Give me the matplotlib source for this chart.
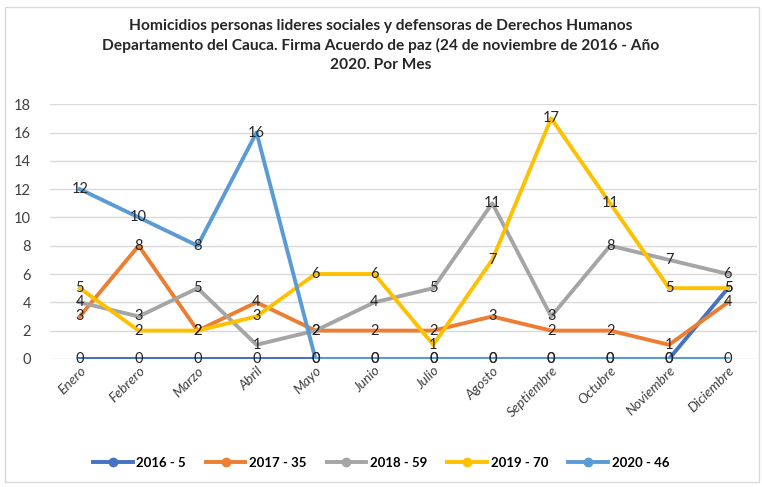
import matplotlib.pyplot as plt
from matplotlib.patches import Rectangle
from matplotlib.lines import Line2D

meses = ["Enero", "Febrero", "Marzo", "Abril", "Mayo", "Junio", "Julio",
         "Agosto", "Septiembre", "Octubre", "Noviembre", "Diciembre"]

y2016 = [0, 0, 0, 0, 0, 0, 0, 0, 0, 0, 0, 5]
y2017 = [3, 8, 2, 4, 2, 2, 2, 3, 2, 2, 1, 4]
y2018 = [4, 3, 5, 1, 2, 4, 5, 11, 3, 8, 7, 6]
y2019 = [5, 2, 2, 3, 6, 6, 1, 7, 17, 11, 5, 5]
y2020 = [12, 10, 8, 16, 0, 0, 0, 0, 0, 0, 0, 0]

series = [("2016 - 5", y2016, "#4472C4"),
          ("2017 - 35", y2017, "#ED7D31"),
          ("2018 - 59", y2018, "#A5A5A5"),
          ("2019 - 70", y2019, "#FFC000"),
          ("2020 - 46", y2020, "#5B9BD5")]

plt.rcParams['font.family'] = ['Lato', 'DejaVu Sans']

fig = plt.figure(figsize=(7.62, 4.87), dpi=100)
ax = fig.add_axes([0.066, 0.263, 0.928, 0.523])

x = list(range(len(meses)))
handles = []
for name, vals, col in series:
    ax.plot(x, vals, color=col, lw=2.8, solid_joinstyle='round')
    handles.append(Line2D([], [], color=col, lw=2.8, marker='o', ms=6, label=name))
for name, vals, col in series:
    for i, v in enumerate(vals):
        ax.text(i, v, str(v), ha='center', va='center', fontsize=10.5,
                color='#262626')

ax.set_xlim(-0.5, 11.5)
ax.set_ylim(0, 18)
ax.set_yticks(range(0, 19, 2))
ax.set_xticks(x)
ax.set_xticklabels(meses, rotation=45, ha='right', rotation_mode='anchor',
                   fontsize=10, color='#404040', style='italic')
ax.tick_params(axis='y', labelsize=10.5, colors='#404040', length=0, pad=14)
ax.tick_params(axis='x', length=0, pad=4)
ax.grid(axis='y', color='#D9D9D9', lw=1)
ax.set_axisbelow(True)
for s in ax.spines.values():
    s.set_visible(False)

fig.suptitle("Homicidios personas lideres sociales y defensoras de Derechos Humanos\n"
             "Departamento del Cauca. Firma Acuerdo de paz (24 de noviembre de 2016 - Año\n"
             "2020. Por Mes", y=0.96, fontsize=11.2, fontweight='bold',
             color='#262626', linespacing=1.4)

fig.legend(handles=handles, loc='center', bbox_to_anchor=(0.5, 0.05), ncol=5,
           frameon=False, prop={'weight': 'bold', 'size': 9.5}, handlelength=3,
           columnspacing=1.5, handletextpad=0.3)

fig.patches.append(Rectangle((0.006, 0.01), 0.99, 0.975, transform=fig.transFigure,
                             fill=False, edgecolor='#D9D9D9', lw=1))

fig.savefig("out.png", dpi=100, facecolor='white')
